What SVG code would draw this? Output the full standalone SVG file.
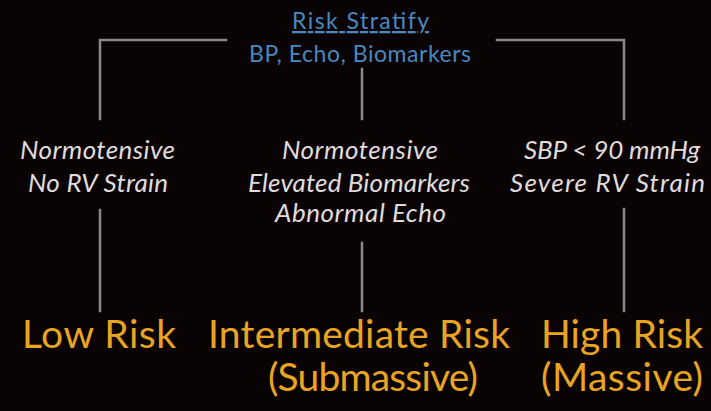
<svg xmlns="http://www.w3.org/2000/svg" width="711" height="411" viewBox="0 0 711 411">
<style>
.ln{stroke:#8c8888;stroke-width:2.5;fill:none;stroke-linecap:square}
.hd{font-family:Lato,"Open Sans",sans-serif;fill:#4a88c0;font-size:23px;text-anchor:middle}
.cr{font-family:Lato,"Open Sans",sans-serif;fill:#e0dcdc;font-size:26px;font-style:italic;text-anchor:middle}
.rk{font-family:Lato,"Open Sans",sans-serif;fill:#e9a422;font-size:39px;text-anchor:middle}
</style>
<rect width="711" height="411" fill="#0a0304"/>
<g id="connectors">
<path class="ln" d="M226,40 H100 V119"/>
<path class="ln" d="M497,40 H624 V119"/>
<path class="ln" d="M362,69 V119"/>
<path class="ln" d="M100,210 V311"/>
<path class="ln" d="M362,243 V311"/>
<path class="ln" d="M624,209 V311"/>
</g>
<g id="root">
<text class="hd" x="360.5" y="29" text-decoration="underline" textLength="137" lengthAdjust="spacing">Risk Stratify</text>
<text class="hd" x="360" y="62" textLength="222" lengthAdjust="spacing">BP, Echo, Biomarkers</text>
</g>
<g id="crit-low">
<text class="cr" x="97.5" y="159" textLength="155" lengthAdjust="spacing">Normotensive</text>
<text class="cr" x="98" y="192" textLength="140" lengthAdjust="spacing">No RV Strain</text>
</g>
<g id="crit-mid">
<text class="cr" x="360" y="159" textLength="156" lengthAdjust="spacing">Normotensive</text>
<text class="cr" x="359" y="192" textLength="222" lengthAdjust="spacing">Elevated Biomarkers</text>
<text class="cr" x="360.5" y="222" textLength="171" lengthAdjust="spacing">Abnormal Echo</text>
</g>
<g id="crit-high">
<text class="cr" x="612" y="159" textLength="176" lengthAdjust="spacing">SBP &lt; 90 mmHg</text>
<text class="cr" x="607.5" y="192" textLength="195" lengthAdjust="spacing">Severe RV Strain</text>
</g>
<g id="risk-low">
<text class="rk" x="99" y="348" textLength="154" lengthAdjust="spacing">Low Risk</text>
</g>
<g id="risk-mid">
<text class="rk" x="359" y="348" textLength="302" lengthAdjust="spacing">Intermediate Risk</text>
<text class="rk" x="373" y="391" textLength="210" lengthAdjust="spacing">(Submassive)</text>
</g>
<g id="risk-high">
<text class="rk" x="622" y="348" textLength="162" lengthAdjust="spacing">High Risk</text>
<text class="rk" x="622" y="391" textLength="162" lengthAdjust="spacing">(Massive)</text>
</g>
</svg>
